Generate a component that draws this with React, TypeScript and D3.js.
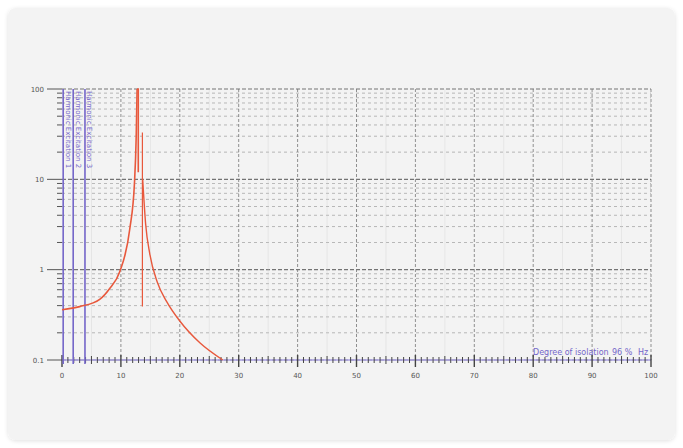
import React from 'react';
import * as d3 from 'd3';

// y decades shown on the left axis
const yTickValues = [0.1, 1, 10, 100];
const yTickLabels = ['0.1', '1', '10', '100'];
const xTickValues = [0, 10, 20, 30, 40, 50, 60, 70, 80, 90, 100];

// resonance curve (frequency, amplitude)
const leftBranch: [number, number][] = [
  [0, 0.36], [3, 0.39], [6.4, 0.47], [8.1, 0.62], [9.8, 0.95], [11.5, 2.8],
  [12.3, 9], [12.6, 30], [12.75, 100],
];
const peakDrop: [number, number][] = [[12.75, 100], [12.95, 100], [12.95, 12]];
const spike: [number, number][] = [[13.65, 33], [13.65, 0.39]];
const rightBranch: [number, number][] = [
  [13.7, 10], [14.2, 3.2], [14.9, 1.5], [16.2, 0.72], [17.8, 0.44], [20, 0.27], [23.4, 0.155], [27.3, 0.1],
];

// excitation markers
const excitations = [0.2, 1.9, 3.9];
const excitationLabels = ['Harmonic Excitation 1', 'Harmonic Excitation 2', 'Harmonic Excitation 3'];

export default function App() {
  const W = 683, H = 448;
  const x = d3.scaleLinear().domain([0, 100]).range([62, 651]);
  const y = d3.scaleLog().domain([0.1, 100]).range([360, 89]);
  const straight = d3.line<[number, number]>().x(d => x(d[0])).y(d => y(d[1]));
  const smooth = d3.line<[number, number]>().x(d => x(d[0])).y(d => y(d[1])).curve(d3.curveMonotoneX);

  // log grid lines
  const grid: { v: number; major: boolean }[] = [];
  [0.1, 1, 10].forEach(dec => {
    for (let k = 1; k <= 9; k++) grid.push({ v: k * dec, major: k === 1 });
  });
  grid.push({ v: 100, major: true });

  const xMinor = d3.range(0, 101, 1);
  const purple = '#7466c9';
  const red = '#e8583c';

  return (
    <svg width={W} height={H} style={{ position: 'absolute', left: 0, top: 0 }}>
      <defs>
        <filter id="sh" x="-5%" y="-5%" width="110%" height="110%">
          <feDropShadow dx="0" dy="1" stdDeviation="2" floodColor="#000" floodOpacity="0.12" />
        </filter>
      </defs>
      <rect width={W} height={H} fill="#fff" />
      <rect x={8} y={8} width={667} height={432} rx={8} fill="#f3f3f3" filter="url(#sh)" />

      {/* horizontal grid */}
      {grid.map((g, i) => (
        <line key={'h' + i} x1={x(0)} x2={x(100)} y1={y(g.v)} y2={y(g.v)}
          stroke={g.major ? '#666' : '#9a9a9a'} strokeWidth={g.major ? 1.1 : 0.9}
          strokeDasharray={g.major ? '4,2' : '3,3'} opacity={g.major ? 0.9 : 0.75} />
      ))}
      {/* vertical grid */}
      {xTickValues.slice(1).map(v => (
        <line key={'v' + v} x1={x(v)} x2={x(v)} y1={y(100)} y2={y(0.1)}
          stroke="#777" strokeWidth={1} strokeDasharray="3,2" opacity={0.8} />
      ))}
      {d3.range(5, 100, 10).map(v => (
        <line key={'v5' + v} x1={x(v)} x2={x(v)} y1={y(100)} y2={y(0.1)}
          stroke="#ccc" strokeWidth={0.6} opacity={0.6} />
      ))}

      {/* y axis minor ticks and labels */}
      {grid.map((g, i) => (
        <line key={'yt' + i} x1={g.major ? 47 : 57} x2={62} y1={y(g.v)} y2={y(g.v)}
          stroke="#555" strokeWidth={1} />
      ))}
      {yTickValues.map((v, i) => (
        <text key={'yl' + i} x={44} y={y(v) + 2.5} textAnchor="end" fontSize={7}
          fontFamily="DejaVu Sans" fill="#555">{yTickLabels[i]}</text>
      ))}

      {/* x axis */}
      <line x1={x(0)} x2={x(100)} y1={y(0.1)} y2={y(0.1)} stroke="#a99fe0" strokeWidth={1.5} />
      {xMinor.map(v => {
        const big = v % 10 === 0;
        const mid = v % 5 === 0;
        return (
          <line key={'xt' + v} x1={x(v)} x2={x(v)}
            y1={y(0.1) - (big ? 5 : mid ? 4 : 3)} y2={y(0.1) + (big ? 7 : mid ? 4 : 3)}
            stroke="#444" strokeWidth={big ? 1.4 : 1} />
        );
      })}
      {xTickValues.map(v => (
        <text key={'xl' + v} x={x(v)} y={378} textAnchor="middle" fontSize={7}
          fontFamily="DejaVu Sans" fill="#555">{v}</text>
      ))}
      <text x={533} y={355} fontSize={8} fontFamily="DejaVu Sans" fill={purple}>Degree of isolation</text>
      <text x={612} y={355} fontSize={8} fontFamily="DejaVu Sans" fill={purple}>96 %</text>
      <text x={638} y={355} fontSize={8} fontFamily="DejaVu Sans" fill={purple}>Hz</text>

      {/* excitation lines */}
      {excitations.map((v, i) => (
        <g key={'ex' + i}>
          <line x1={x(v)} x2={x(v)} y1={y(100)} y2={y(0.1) + 4} stroke={purple} strokeWidth={1.6} />
          <text transform={`translate(${x(v) + 2.5},${y(100) + 2}) rotate(90)`} fontSize={7}
            fontFamily="DejaVu Sans" fill={purple}>{excitationLabels[i]}</text>
        </g>
      ))}

      {/* response curve */}
      <path d={smooth(leftBranch) || ''} fill="none" stroke={red} strokeWidth={1.6} />
      <path d={straight(peakDrop) || ''} fill="none" stroke={red} strokeWidth={1.6} />
      <path d={straight(spike) || ''} fill="none" stroke={red} strokeWidth={1.2} />
      <path d={smooth(rightBranch) || ''} fill="none" stroke={red} strokeWidth={1.4} />
    </svg>
  );
}
